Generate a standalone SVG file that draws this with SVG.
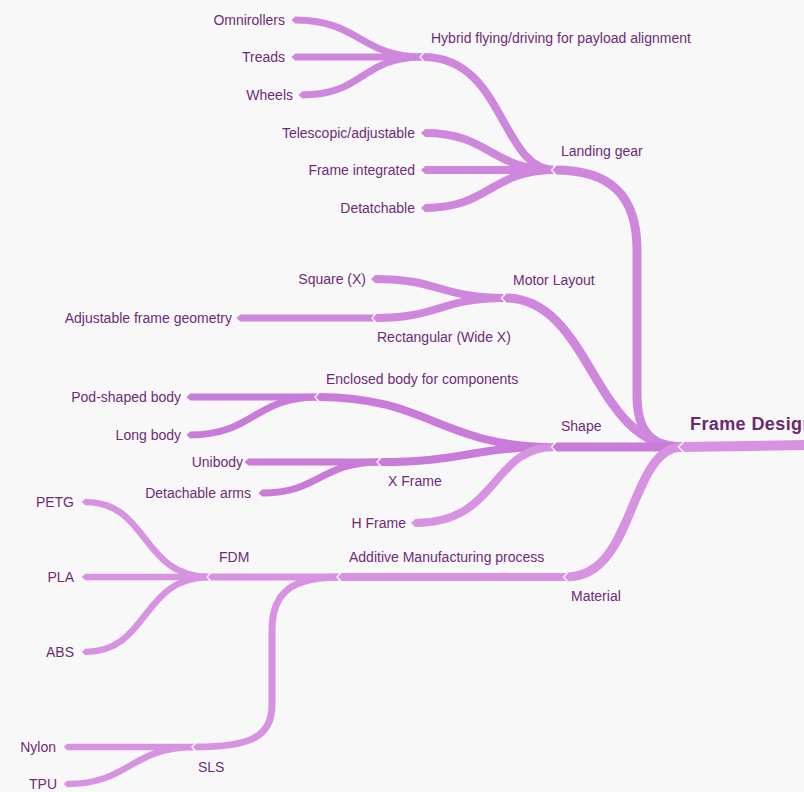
<svg xmlns="http://www.w3.org/2000/svg" width="804" height="792" viewBox="0 0 804 792">
<style>
.lbl{font-family:"Liberation Sans",Arial,Helvetica,sans-serif;font-size:14px;fill:#6e2c78}
.end{text-anchor:end}
.root{font-family:"Liberation Sans",Arial,Helvetica,sans-serif;font-size:18px;font-weight:bold;fill:#6a2970;letter-spacing:0.4px}
.e{fill:none;stroke-linecap:butt}
.a{stroke:#ce87dc;marker-end:url(#tA)}
.b{stroke:#c87bd8;marker-end:url(#tB)}
.c{stroke:#d792e2;marker-end:url(#tC)}
.w9{stroke-width:9}.w8{stroke-width:8}.w7{stroke-width:7}.w6{stroke-width:6.5}
.chev{fill:none;stroke:#f9f8f8;stroke-width:1.4}
</style>
<defs>
<marker id="tA" viewBox="-0.05 -1 1.1 2" refX="0" refY="0" markerWidth="1.1" markerHeight="2" markerUnits="strokeWidth" orient="auto"><path d="M-0.05,-0.5 L0.5,0 L-0.05,0.5 Z" fill="#ce87dc"/></marker>
<marker id="tB" viewBox="-0.05 -1 1.1 2" refX="0" refY="0" markerWidth="1.1" markerHeight="2" markerUnits="strokeWidth" orient="auto"><path d="M-0.05,-0.5 L0.5,0 L-0.05,0.5 Z" fill="#c87bd8"/></marker>
<marker id="tC" viewBox="-0.05 -1 1.1 2" refX="0" refY="0" markerWidth="1.1" markerHeight="2" markerUnits="strokeWidth" orient="auto"><path d="M-0.05,-0.5 L0.5,0 L-0.05,0.5 Z" fill="#d792e2"/></marker>
</defs>
<rect width="804" height="792" fill="#f9f8f8"/>
<g id="connectors">
<!-- leaves / deeper levels first -->
<path class="e a w7" d="M423 57 C 360 57, 360 20, 295 20"/>
<path class="e a w7" d="M423 57 L 295 57"/>
<path class="e a w7" d="M423 57 C 360 57, 365 95, 302 95"/>
<path class="e a w8" d="M555 170 C 500 170, 505 57, 423 57"/>
<path class="e a w8" d="M555 170 C 490 170, 490 133, 425 133"/>
<path class="e a w8" d="M555 170 L 425 170"/>
<path class="e a w8" d="M555 170 C 490 170, 490 208, 425 208"/>
<path class="e a w7" d="M375 318 L 240 318"/>
<path class="e a w8" d="M505 298 C 440 298, 440 279, 375 279"/>
<path class="e a w8" d="M505 298 C 440 298, 440 318, 375 318"/>
<path class="e b w7" d="M318 397 L 190 397"/>
<path class="e b w7" d="M318 397 C 254 397, 254 435, 190 435"/>
<path class="e b w7" d="M380 462 L 248 462"/>
<path class="e b w7" d="M380 462 C 320 462, 320 493, 262 493"/>
<path class="e b w8" d="M555 447 C 440 447, 430 397, 318 397"/>
<path class="e b w8" d="M555 447 C 470 447, 465 462, 380 462"/>
<path class="e c w8" d="M555 447 C 490 447, 500 523, 415 523"/>
<path class="e c w6" d="M210 577 C 140 577, 150 502, 85 502"/>
<path class="e c w6" d="M210 577 L 85 577"/>
<path class="e c w6" d="M210 577 C 140 577, 150 652, 85 652"/>
<path class="e c w6" d="M195 747 L 67 747"/>
<path class="e c w6" d="M195 747 C 130 747, 130 784, 67 784"/>
<path class="e c w7" d="M340 577 L 210 577"/>
<path class="e c w7" d="M340 577 C 295 577, 272 590, 272 630 L 272 705 C 272 737, 250 747, 195 747"/>
<path class="e c w8" d="M567 577 L 340 577"/>
<path class="e a w9" d="M683 447 C 650 447, 637 430, 637 395 L 637 250 C 637 195, 610 170, 555 170"/>
<path class="e a w9" d="M683 447 C 592 447, 592 298, 505 298"/>
<path class="e b w9" d="M683 447 L 555 447"/>
<path class="e c w9" d="M683 447 C 628 447, 636 577, 567 577"/>
<path class="e c" style="stroke-width:10" d="M806 445 L 683 447"/>
<!-- notches -->
<polyline class="chev" points="684,441.5 678.5,447 684,452.5"/>
<polyline class="chev" points="556,165 551.5,170 556,175"/>
<polyline class="chev" points="424,52.5 420,57 424,61.5"/>
<polyline class="chev" points="506,293 501.5,298 506,303"/>
<polyline class="chev" points="376,313.5 372,318 376,322.5"/>
<polyline class="chev" points="556,442 551.5,447 556,452"/>
<polyline class="chev" points="319,392.5 315,397 319,401.5"/>
<polyline class="chev" points="381,457.5 377,462 381,466.5"/>
<polyline class="chev" points="568,572 563.5,577 568,582"/>
<polyline class="chev" points="341,572.5 337,577 341,581.5"/>
<polyline class="chev" points="211,572.5 207,577 211,581.5"/>
<polyline class="chev" points="196,742.5 192,747 196,751.5"/>
</g>
<g id="frame-design"><text class="root" x="690" y="430">Frame Design</text></g>
<g id="landing-gear"><text class="lbl" x="561" y="156">Landing gear</text></g>
<g id="hybrid"><text class="lbl" x="431" y="43">Hybrid flying/driving for payload alignment</text></g>
<g id="omnirollers"><text class="lbl end" x="285" y="25">Omnirollers</text></g>
<g id="treads"><text class="lbl end" x="285" y="62">Treads</text></g>
<g id="wheels"><text class="lbl end" x="293" y="100">Wheels</text></g>
<g id="telescopic"><text class="lbl end" x="415" y="138">Telescopic/adjustable</text></g>
<g id="frame-integrated"><text class="lbl end" x="415" y="175">Frame integrated</text></g>
<g id="detatchable"><text class="lbl end" x="415" y="213">Detatchable</text></g>
<g id="motor-layout"><text class="lbl" x="513" y="285">Motor Layout</text></g>
<g id="square"><text class="lbl end" x="366" y="284">Square (X)</text></g>
<g id="rectangular"><text class="lbl" x="377" y="342">Rectangular (Wide X)</text></g>
<g id="adjustable"><text class="lbl end" x="232" y="323">Adjustable frame geometry</text></g>
<g id="shape"><text class="lbl" x="561" y="431">Shape</text></g>
<g id="enclosed"><text class="lbl" x="326" y="384">Enclosed body for components</text></g>
<g id="pod"><text class="lbl end" x="181" y="402">Pod-shaped body</text></g>
<g id="long-body"><text class="lbl end" x="181" y="440">Long body</text></g>
<g id="x-frame"><text class="lbl" x="388" y="486">X Frame</text></g>
<g id="unibody"><text class="lbl end" x="243" y="467">Unibody</text></g>
<g id="detachable-arms"><text class="lbl end" x="251" y="498">Detachable arms</text></g>
<g id="h-frame"><text class="lbl end" x="406" y="528">H Frame</text></g>
<g id="material"><text class="lbl" x="571" y="601">Material</text></g>
<g id="additive"><text class="lbl" x="349" y="562">Additive Manufacturing process</text></g>
<g id="fdm"><text class="lbl" x="219" y="562">FDM</text></g>
<g id="petg"><text class="lbl end" x="74" y="507">PETG</text></g>
<g id="pla"><text class="lbl end" x="74" y="582">PLA</text></g>
<g id="abs"><text class="lbl end" x="74" y="657">ABS</text></g>
<g id="sls"><text class="lbl" x="198" y="772">SLS</text></g>
<g id="nylon"><text class="lbl end" x="56" y="752">Nylon</text></g>
<g id="tpu"><text class="lbl end" x="57" y="789">TPU</text></g>
</svg>
